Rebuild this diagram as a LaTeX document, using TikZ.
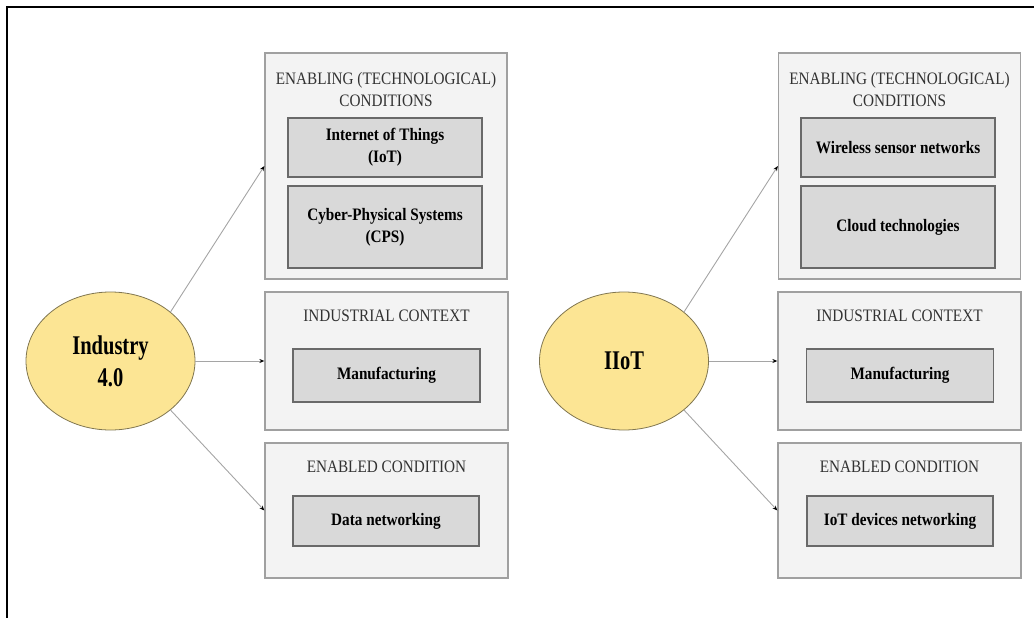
\documentclass[tikz,border=0pt]{standalone}
\usepackage{fontspec}
\setmainfont{Liberation Serif}
\newfontfamily\boxfont[FakeStretch=0.87]{Liberation Serif}
\newfontfamily\hubfont[FakeStretch=0.76]{Liberation Serif}
\usetikzlibrary{shapes.geometric,arrows.meta}
\definecolor{hubfill}{RGB}{252,229,148}
\definecolor{hubline}{RGB}{128,118,80}
\definecolor{groupfill}{RGB}{243,243,243}
\definecolor{groupline}{RGB}{160,160,160}
\definecolor{itemfill}{RGB}{217,217,217}
\definecolor{itemline}{RGB}{105,105,105}
\definecolor{headtext}{RGB}{50,50,50}
\definecolor{linkgray}{RGB}{165,165,165}
\begin{document}
\begin{tikzpicture}[x=1pt,y=-1pt,>=Stealth,
  hub/.style={ellipse,draw=hubline,fill=hubfill,line width=0.8pt,minimum width=169pt,minimum height=138pt,inner sep=0pt,align=center,font=\hubfont\fontsize{27}{32}\selectfont\bfseries},
  group/.style={draw=groupline,fill=groupfill,line width=1.3pt,inner sep=0pt},
  head/.style={text=headtext,align=center,inner sep=0pt,font=\boxfont\fontsize{17.5}{22}\selectfont},
  item/.style={draw=itemline,fill=itemfill,line width=1.2pt,minimum width=194pt,align=center,inner sep=0pt,font=\boxfont\fontsize{17.5}{22}\selectfont\bfseries},
  link/.style={draw=linkgray,line width=0.9pt,-{Stealth[length=5pt,width=4pt,black]}}]
\useasboundingbox (0,0) rectangle (1034,618);
\draw[line width=2pt] (7,618) -- (7,7) -- (1034,7);

\node[hub] (ind) at (110.5,361) {Industry\\4.0};
\node[group,minimum width=242pt,minimum height=226pt] (ind-en) at (386,166) {};
\node[head] (ind-en-t) at (386,90) {ENABLING (TECHNOLOGICAL)\\CONDITIONS};
\node[item,minimum height=59pt] (ind-iot) at (385,147.5) {Internet of Things\\(IoT)};
\node[item,minimum height=82pt] (ind-cps) at (385,227) {Cyber-Physical Systems\\(CPS)};
\node[group,minimum width=243pt,minimum height=138pt] (ind-ctx) at (386.5,361) {};
\node[head] (ind-ctx-t) at (386.5,315.5) {INDUSTRIAL CONTEXT};
\node[item,minimum width=187pt,minimum height=53pt] (ind-man) at (386.5,375.5) {Manufacturing};
\node[group,minimum width=243pt,minimum height=135pt] (ind-ed) at (386.5,510.5) {};
\node[head] (ind-ed-t) at (386.5,467) {ENABLED CONDITION};
\node[item,minimum width=186pt,minimum height=50pt] (ind-net) at (386,521) {Data networking};
\draw[link] (ind.north east) -- (ind-en.west);
\draw[link] (ind.east) -- (ind-ctx.west);
\draw[link] (ind.south east) -- (ind-ed.west);

\node[hub] (iiot) at (624,361) {IIoT};
\node[group,minimum width=242pt,minimum height=226pt] (iiot-en) at (899.5,166) {};
\node[head] (iiot-en-t) at (899.5,90) {ENABLING (TECHNOLOGICAL)\\CONDITIONS};
\node[item,minimum height=59pt] (iiot-wsn) at (898,147.5) {Wireless sensor networks};
\node[item,minimum height=82pt] (iiot-cld) at (898,227) {Cloud technologies};
\node[group,minimum width=243pt,minimum height=138pt] (iiot-ctx) at (899.5,361) {};
\node[head] (iiot-ctx-t) at (899.5,315.5) {INDUSTRIAL CONTEXT};
\node[item,minimum width=187pt,minimum height=53pt] (iiot-man) at (900,375.5) {Manufacturing};
\node[group,minimum width=243pt,minimum height=135pt] (iiot-ed) at (899.5,510.5) {};
\node[head] (iiot-ed-t) at (899.5,467) {ENABLED CONDITION};
\node[item,minimum width=186pt,minimum height=50pt] (iiot-dev) at (900,521) {IoT devices networking};
\draw[link] (iiot.north east) -- (iiot-en.west);
\draw[link] (iiot.east) -- (iiot-ctx.west);
\draw[link] (iiot.south east) -- (iiot-ed.west);
\end{tikzpicture}
\end{document}
